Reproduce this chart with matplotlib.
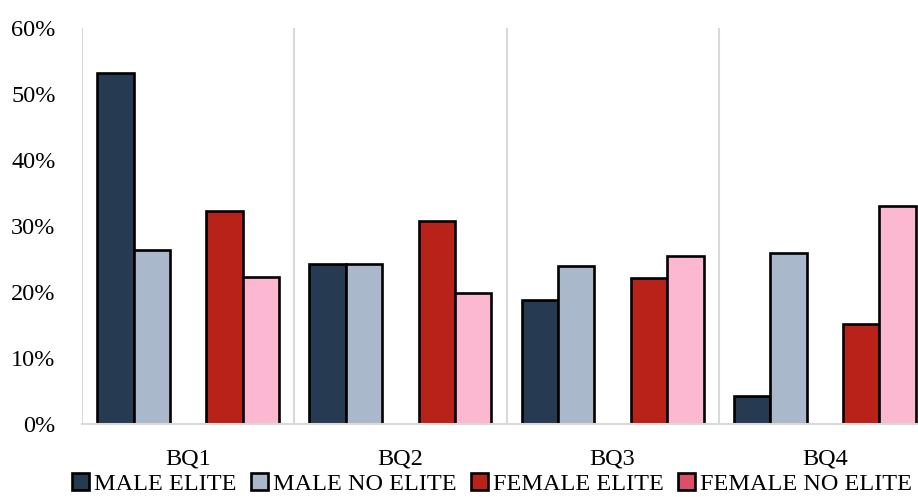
import numpy as np
import matplotlib.pyplot as plt
from matplotlib.patches import Patch

# data (percent)
categories = ["BQ1", "BQ2", "BQ3", "BQ4"]
male_elite = [53.2, 24.2, 18.8, 4.2]
male_no_elite = [26.4, 24.3, 23.9, 25.9]
female_elite = [32.3, 30.8, 22.1, 15.2]
female_no_elite = [22.3, 19.9, 25.4, 33.0]

series = [male_elite, male_no_elite, female_elite, female_no_elite]
labels = ["MALE ELITE", "MALE NO ELITE", "FEMALE ELITE", "FEMALE NO ELITE"]
colors = ["#263B51", "#A9B8CA", "#B92218", "#FDB8D1"]
legend_colors = ["#263B51", "#A9B8CA", "#B92218", "#DB5068"]
slots = [-2, -1, 1, 2]   # empty slot in the middle of each group

plt.rcParams['font.family'] = ['Liberation Serif', 'DejaVu Serif']

fig = plt.figure(figsize=(9.18, 4.97), dpi=100)
ax = fig.add_axes([82/918, 73/497, 849/918, 396/497])

x = np.arange(len(categories))
w = 0.1714
for vals, s, c in zip(series, slots, colors):
    ax.bar(x + s*w, np.array(vals)/100, width=w, color=c,
           edgecolor="black", linewidth=1.9)

for b in [-0.5, 0.5, 1.5, 2.5]:
    ax.axvline(b, color="#d9d9d9", linewidth=1.5, zorder=0)

ax.set_xlim(-0.5, 3.5)
ax.set_ylim(0, 0.6)
ax.set_yticks(np.arange(0, 0.61, 0.1))
ax.set_yticklabels([f"{int(round(t*100))}%" for t in np.arange(0, 0.61, 0.1)])
ax.set_xticks(x)
ax.set_xticklabels(categories)
ax.tick_params(axis="y", length=0, pad=19, labelsize=17.5)
ax.tick_params(axis="x", length=0, pad=18, labelsize=17.5)

for sp in ["top", "right", "left"]:
    ax.spines[sp].set_visible(False)
ax.spines["bottom"].set_color("#d9d9d9")
ax.spines["bottom"].set_linewidth(1.5)

handles = [Patch(facecolor=c, edgecolor="black", linewidth=1.9) for c in legend_colors]
fig.legend(handles, labels, loc="lower center", bbox_to_anchor=(0.536, -0.04),
           ncol=4, frameon=False, fontsize=17.5, handlelength=0.7, handleheight=0.7,
           handletextpad=0.2, columnspacing=0.6)

plt.savefig("out.png", dpi=100)
